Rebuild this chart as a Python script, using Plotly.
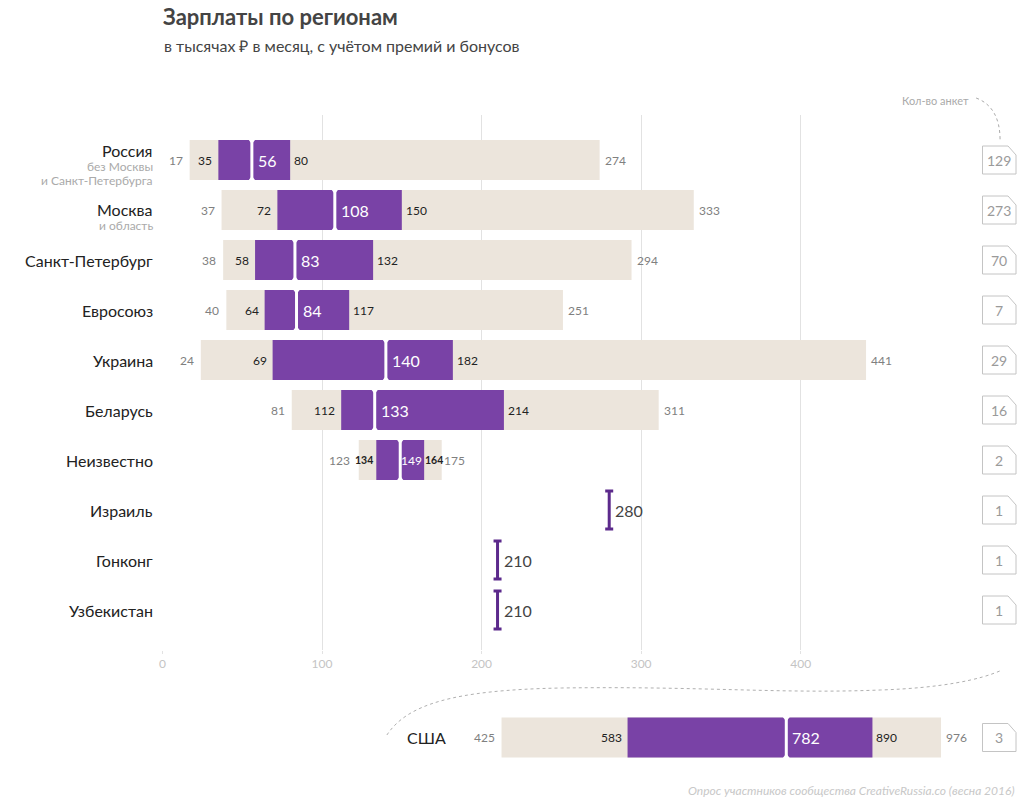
import plotly.graph_objects as go

# ---------------- data ----------------
regions = ["Россия", "Москва", "Санкт-Петербург", "Евросоюз", "Украина",
           "Беларусь", "Неизвестно", "Израиль", "Гонконг", "Узбекистан"]
subtitles = [["без Москвы", "и Санкт-Петербурга"], ["и область"], [], [], [], [], [], [], [], []]
box_rows = [0, 1, 2, 3, 4, 5, 6]
mins = [17, 37, 38, 40, 24, 81, 123]
q1s = [35, 72, 58, 64, 69, 112, 134]
meds = [56, 108, 83, 84, 140, 133, 149]
q3s = [80, 150, 132, 117, 182, 214, 164]
maxs = [274, 333, 294, 251, 441, 311, 175]
single_rows = [7, 8, 9]
single_vals = [280, 210, 210]
counts = [129, 273, 70, 7, 29, 16, 2, 1, 1, 1]

usa_label = "США"
usa_min, usa_q1, usa_med, usa_q3, usa_max = 425, 583, 782, 890, 976
usa_count = 3

tick_vals = [0, 100, 200, 300, 400]

title = "Зарплаты по регионам"
subtitle = "в тысячах ₽ в месяц, с учётом премий и бонусов"
count_title = "Кол-во анкет"
footer = "Опрос участников сообщества CreativeRussia.co (весна 2016)"

# ---------------- style ----------------
W, H = 1020, 800
FONT = "Lato, 'Open Sans', sans-serif"
BEIGE = "#ece5dc"
PURPLE = "#7942a6"
DARKPURPLE = "#5c2a8c"
DARK = "#222222"
GREY = "#808080"
LIGHT = "#aaaaaa"


def px(x):
    return x / W


def py(y):
    return 1 - y / H


fig = go.Figure()

# beige full range bars
fig.add_trace(go.Bar(orientation="h", y=box_rows, base=mins,
                     x=[b - a for a, b in zip(mins, maxs)], width=0.8,
                     marker=dict(color=BEIGE, line=dict(width=0)),
                     xaxis="x", yaxis="y", hoverinfo="skip"))
# purple IQR bars
fig.add_trace(go.Bar(orientation="h", y=box_rows, base=q1s,
                     x=[b - a for a, b in zip(q1s, q3s)], width=0.8,
                     marker=dict(color=PURPLE, line=dict(width=0)),
                     xaxis="x", yaxis="y", hoverinfo="skip"))
# median notch
mx, my = [], []
for r, m in zip(box_rows, meds):
    mx += [m, m, None]
    my += [r - 0.42, r + 0.42, None]
fig.add_trace(go.Scatter(x=mx, y=my, mode="lines", line=dict(color="white", width=3),
                         xaxis="x", yaxis="y", hoverinfo="skip"))
fig.add_trace(go.Scatter(x=meds, y=[r - 0.4 for r in box_rows], mode="markers",
                         marker=dict(symbol="triangle-down", color="white", size=8),
                         xaxis="x", yaxis="y", hoverinfo="skip"))
fig.add_trace(go.Scatter(x=meds, y=[r + 0.4 for r in box_rows], mode="markers",
                         marker=dict(symbol="triangle-up", color="white", size=8),
                         xaxis="x", yaxis="y", hoverinfo="skip"))

# single-value I-beams
fig.add_trace(go.Scatter(x=single_vals, y=single_rows, mode="markers",
                         marker=dict(color="rgba(0,0,0,0)", size=2),
                         error_y=dict(type="constant", value=0.38, color=DARKPURPLE,
                                      thickness=3, width=4),
                         xaxis="x", yaxis="y", hoverinfo="skip"))

# USA
fig.add_trace(go.Bar(orientation="h", y=[0], base=[usa_min], x=[usa_max - usa_min], width=0.8,
                     marker=dict(color=BEIGE, line=dict(width=0)),
                     xaxis="x2", yaxis="y2", hoverinfo="skip"))
fig.add_trace(go.Bar(orientation="h", y=[0], base=[usa_q1], x=[usa_q3 - usa_q1], width=0.8,
                     marker=dict(color=PURPLE, line=dict(width=0)),
                     xaxis="x2", yaxis="y2", hoverinfo="skip"))
fig.add_trace(go.Scatter(x=[usa_med, usa_med], y=[-0.42, 0.42], mode="lines",
                         line=dict(color="white", width=3),
                         xaxis="x2", yaxis="y2", hoverinfo="skip"))
fig.add_trace(go.Scatter(x=[usa_med, usa_med], y=[-0.4, 0.4], mode="markers",
                         marker=dict(symbol=["triangle-down", "triangle-up"], color="white", size=8),
                         xaxis="x2", yaxis="y2", hoverinfo="skip"))

ann = []
shapes = []


def value_labels(xr, yr, row, mn, a, m, b, mxv, small=False):
    s = 10.5 if small else 12
    ann.append(dict(xref=xr, yref=yr, x=mn, y=row, text=str(mn), showarrow=False,
                    xanchor="right", xshift=-7 if small else -5,
                    font=dict(size=12, color=GREY, family=FONT)))
    ann.append(dict(xref=xr, yref=yr, x=a, y=row, text=(f"<b>{a}</b>" if small else str(a)),
                    showarrow=False, xanchor="right", xshift=-1 if small else -4,
                    font=dict(size=s, color=DARK, family=FONT)))
    ann.append(dict(xref=xr, yref=yr, x=m, y=row, text=str(m), showarrow=False,
                    xanchor="left", xshift=-1 if small else 4,
                    font=dict(size=12 if small else 16, color="white", family=FONT)))
    ann.append(dict(xref=xr, yref=yr, x=b, y=row, text=(f"<b>{b}</b>" if small else str(b)),
                    showarrow=False, xanchor="left", xshift=-1 if small else 2,
                    font=dict(size=s, color=DARK, family=FONT)))
    ann.append(dict(xref=xr, yref=yr, x=mxv, y=row, text=str(mxv), showarrow=False,
                    xanchor="left", xshift=0 if small else 3,
                    font=dict(size=12, color=GREY, family=FONT)))


for i, r in enumerate(box_rows):
    value_labels("x", "y", r, mins[i], q1s[i], meds[i], q3s[i], maxs[i], small=(maxs[i] - mins[i] < 80))

for r, v in zip(single_rows, single_vals):
    ann.append(dict(xref="x", yref="y", x=v, y=r, text=str(v), showarrow=False,
                    xanchor="left", xshift=4, font=dict(size=16, color="#444", family=FONT)))

value_labels("x2", "y2", 0, usa_min, usa_q1, usa_med, usa_q3, usa_max)

# row labels
for i, name in enumerate(regions):
    subs = subtitles[i]
    main_y = i - (0.2 if len(subs) == 2 else (0.02 if len(subs) == 1 else 0))
    ann.append(dict(xref="paper", yref="y", x=px(152), y=main_y, text=name, showarrow=False,
                    xanchor="right", yanchor="middle", font=dict(size=16, color=DARK, family=FONT)))
    for k, s in enumerate(subs):
        ann.append(dict(xref="paper", yref="y", x=px(152), y=main_y + 0.32 + 0.28 * k, text=s,
                        showarrow=False, xanchor="right", yanchor="middle",
                        font=dict(size=12, color=LIGHT, family=FONT)))

ann.append(dict(xref="paper", yref="y2", x=px(446), y=0, text=usa_label, showarrow=False,
                xanchor="right", yanchor="middle", font=dict(size=16, color=DARK, family=FONT)))


# count boxes
def count_box(xr, yr, x0, x1, cut_x, yc, hh, cut_y, val):
    y0, y1 = yc - hh, yc + hh
    path = (f"M {x0},{y0} L {x1 - cut_x},{y0} L {x1},{y0 + cut_y} "
            f"L {x1},{y1} L {x0},{y1} Z")
    shapes.append(dict(type="path", xref=xr, yref=yr, path=path,
                       line=dict(color="#c4c4c4", width=1), fillcolor="white", layer="above"))
    ann.append(dict(xref=xr, yref=yr, x=(x0 + x1) / 2, y=yc, text=str(val), showarrow=False,
                    font=dict(size=14, color="#9a9a9a", family=FONT)))


for i, c in enumerate(counts):
    count_box("x", "y", 514.0, 535.0, 5.0, i, 0.28, 0.18, c)
count_box("x2", "y2", 1028.0, 1070.0, 10.0, 0, 0.28, 0.18, usa_count)

# title texts
ann.append(dict(xref="paper", yref="paper", x=px(158), y=py(17), text=f"<b>{title}</b>",
                showarrow=False, xanchor="left", yanchor="middle",
                font=dict(size=22, color="#444", family=FONT)))
ann.append(dict(xref="paper", yref="paper", x=px(159), y=py(45), text=subtitle,
                showarrow=False, xanchor="left", yanchor="middle",
                font=dict(size=16, color="#444", family=FONT)))
ann.append(dict(xref="paper", yref="paper", x=px(971), y=py(100), text=count_title,
                showarrow=False, xanchor="right", yanchor="middle",
                font=dict(size=11, color="#aaa", family=FONT)))
ann.append(dict(xref="paper", yref="paper", x=px(1017), y=py(790), text=f"<i>{footer}</i>",
                showarrow=False, xanchor="right", yanchor="middle",
                font=dict(size=12, color="#c8c8c8", family=FONT)))


def ppath(pts):
    s = f"M {px(pts[0][0])},{py(pts[0][1])}"
    rest = pts[1:]
    for j in range(0, len(rest), 3):
        a, b, c = rest[j:j + 3]
        s += f" C {px(a[0])},{py(a[1])} {px(b[0])},{py(b[1])} {px(c[0])},{py(c[1])}"
    return s


shapes.append(dict(type="path", xref="paper", yref="paper",
                   path=ppath([(976, 98), (992, 104), (1000, 118), (1000, 140)]),
                   line=dict(color="#aaa", width=1, dash="dot")))
shapes.append(dict(type="path", xref="paper", yref="paper",
                   path=ppath([(385, 735), (405, 705), (450, 690), (560, 688),
                               (700, 686), (780, 694), (880, 690),
                               (940, 688), (980, 680), (1002, 670)]),
                   line=dict(color="#b0b0b0", width=1, dash="dot")))

fig.update_layout(
    width=W, height=H, margin=dict(l=0, r=0, t=0, b=0),
    paper_bgcolor="white", plot_bgcolor="white", showlegend=False,
    barmode="overlay", font=dict(family=FONT),
    xaxis=dict(domain=[px(160), 1], range=[0, 537.5], tickvals=tick_vals,
               showgrid=True, gridcolor="#e2e2e2", gridwidth=1, zeroline=False,
               ticks="outside", ticklen=3, tickcolor="#e2e2e2", showline=False,
               tickfont=dict(size=12, color="#c4c4c4", family=FONT), anchor="y", fixedrange=True),
    yaxis=dict(domain=[py(650), py(115)], range=[9.8, -0.9], visible=False, anchor="x"),
    xaxis2=dict(domain=[px(160), 1], range=[0, 1075], visible=False, anchor="y2"),
    yaxis2=dict(domain=[py(777.5), py(697.5)], range=[0.8, -0.8], visible=False, anchor="x2"),
    annotations=ann, shapes=shapes,
)

fig.write_html("out.html", config={"displayModeBar": False},
               post_script="document.body.style.margin='0';document.body.style.overflow='hidden';")
